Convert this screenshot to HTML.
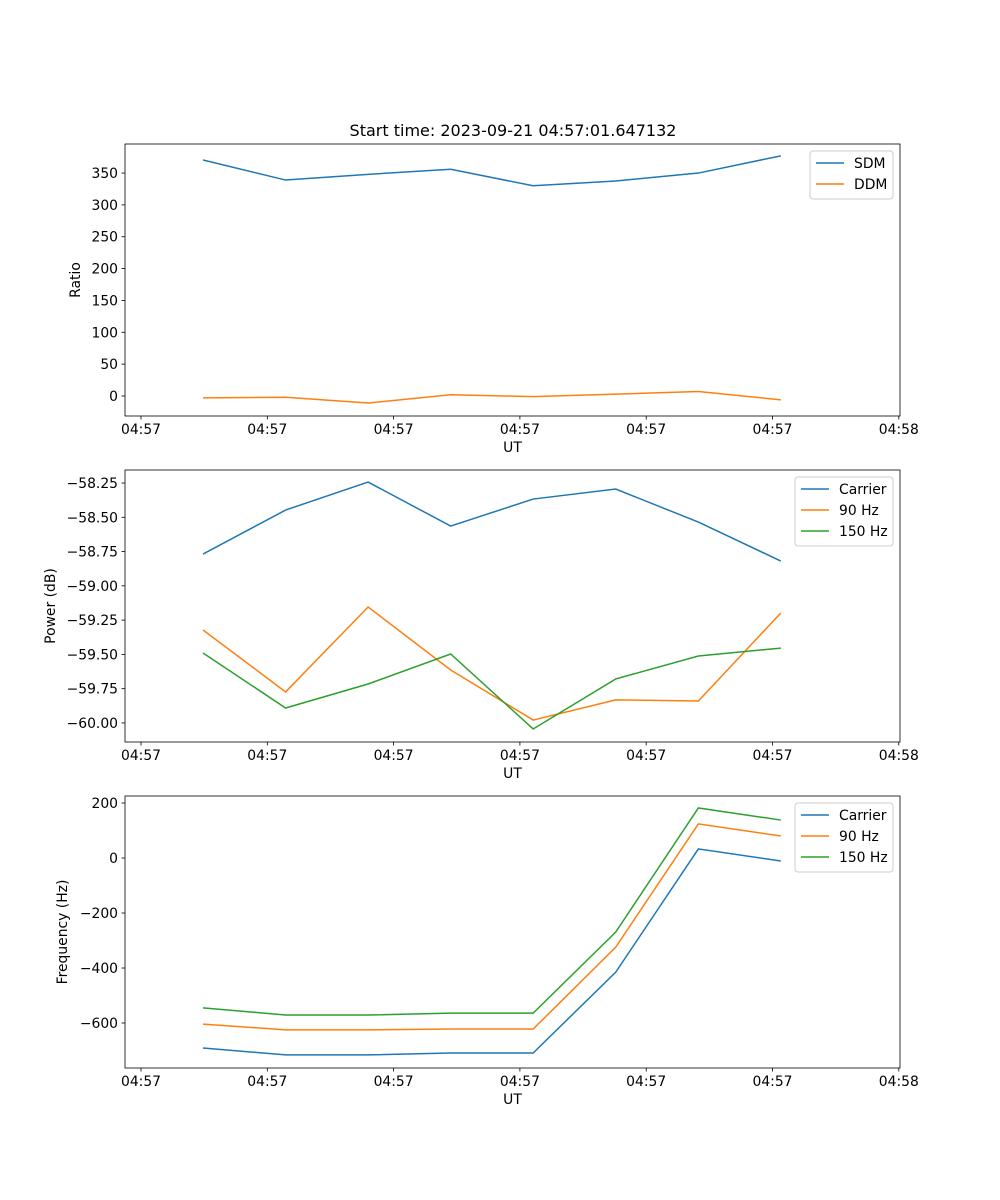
<!DOCTYPE html>
<html><head><meta charset="utf-8"><style>
body{margin:0;background:#fff}
svg{display:block;font-family:"DejaVu Sans","Liberation Sans",sans-serif;font-size:13.9px}
</style></head><body>
<svg id="fig" width="1000" height="1200" xmlns="http://www.w3.org/2000/svg">
<rect width="1000" height="1200" fill="#fff"/>
<text x="513" y="136" text-anchor="middle" font-size="16px">Start time: 2023-09-21 04:57:01.647132</text>
</svg>
<script>
const times=[4.91,11.45,17.98,24.52,31.05,37.59,44.13,50.66];
const xTicks=[0,10,20,30,40,50,60];
const xTickLabels=["04:57","04:57","04:57","04:57","04:57","04:57","04:58"];
const sdm=[370.5,339,348,356,330,337.5,350,377];
const ddm=[-3,-2,-11,2,-1,3,7,-6];
const pCarrier=[-58.768,-58.447,-58.243,-58.564,-58.367,-58.294,-58.535,-58.819];
const p90=[-59.322,-59.774,-59.154,-59.614,-59.979,-59.832,-59.84,-59.198];
const p150=[-59.49,-59.891,-59.716,-59.497,-60.044,-59.679,-59.512,-59.454];
const fCarrier=[-691,-716,-716,-709,-709,-415,33,-11];
const f90=[-604,-625,-625,-622,-622,-324,124,80];
const f150=[-545,-571,-571,-564,-564,-269,182,138];
const ticks1=[0,50,100,150,200,250,300,350];
const ticks2=[-60,-59.75,-59.5,-59.25,-59,-58.75,-58.5,-58.25];
const ticks3=[-600,-400,-200,0,200];
const C=["#1f77b4","#ff7f0e","#2ca02c"];
const svg=document.getElementById('fig');
const NS="http://www.w3.org/2000/svg";
function mk(t,a,p){const e=document.createElementNS(NS,t);for(const k in a)e.setAttribute(k,a[k]);(p||svg).appendChild(e);return e;}
const L=125,R=900;
const xs=t=>141+t*12.63;
function panel(id,top,bot,ymin,ymax,yt,fmt,ylabel,ylx,series,leg){
  const g=mk('g',{});
  
  
  const ys=v=>bot-(v-ymin)/(ymax-ymin)*(bot-top);
  series.forEach((s,i)=>{
    const pl=mk('polyline',{points:s.data.map((v,j)=>xs(times[j])+','+ys(v)).join(' '),fill:'none',stroke:s.c,'stroke-width':1.5},g);
    
    
  });
  mk('rect',{x:L,y:top,width:R-L,height:bot-top,fill:'none',stroke:'#000','stroke-width':0.8},g);
  xTicks.forEach((t,i)=>{
    mk('line',{x1:xs(t),x2:xs(t),y1:bot,y2:bot+3.5,stroke:'#000','stroke-width':0.8},g);
    const tx=mk('text',{x:xs(t),y:bot+18,'text-anchor':'middle'},g);tx.textContent=xTickLabels[i];
    
    
  });
  const xl=mk('text',{x:(L+R)/2,y:bot+36,'text-anchor':'middle'},g);xl.textContent='UT';
  
  
  yt.forEach(v=>{
    mk('line',{x1:L-3.5,x2:L,y1:ys(v),y2:ys(v),stroke:'#000','stroke-width':0.8},g);
    const tx=mk('text',{x:L-7,y:ys(v)+5,'text-anchor':'end'},g);tx.textContent=fmt(v);
    
    
  });
  const my=(top+bot)/2;
  const yl=mk('text',{x:ylx,y:my,'text-anchor':'middle',transform:`rotate(-90 ${ylx} ${my})`},g);yl.textContent=ylabel;
  
  
  const lg=mk('g',{},g);
  
  
  mk('rect',{x:leg.x,y:top+7,width:R-7-leg.x,height:series.length*21+6,rx:3,fill:'#fff',stroke:'#ccc','stroke-width':1},lg);
  series.forEach((s,i)=>{
    const yy=top+19+i*21;
    mk('line',{x1:leg.x+6,x2:leg.x+34,y1:yy,y2:yy,stroke:s.c,'stroke-width':1.5},lg);
    const t=mk('text',{x:leg.x+44,y:yy+5},lg);t.textContent=s.label;
    
    
  });
}
const m=v=>v<0?'\u2212'+Math.abs(v):''+v;
panel('ratio',144,416,-31.4,395.6,ticks1,v=>m(v),'Ratio',80,
 [{data:sdm,c:C[0],label:'SDM',key:'sdm'},{data:ddm,c:C[1],label:'DDM',key:'ddm'}],{x:810});
panel('power',470,742,-60.139,-58.155,ticks2,v=>m(v.toFixed(2)*1).replace(/(\.\d)$/,'$10').replace(/^(\u2212?\d+)$/,'$1.00'),'Power (dB)',55,
 [{data:pCarrier,c:C[0],label:'Carrier',key:'carrier'},{data:p90,c:C[1],label:'90 Hz',key:'90hz'},{data:p150,c:C[2],label:'150 Hz',key:'150hz'}],{x:795});
panel('frequency',796,1068,-763.6,225.5,ticks3,v=>m(v),'Frequency (Hz)',67,
 [{data:fCarrier,c:C[0],label:'Carrier',key:'carrier'},{data:f90,c:C[1],label:'90 Hz',key:'90hz'},{data:f150,c:C[2],label:'150 Hz',key:'150hz'}],{x:795});
</script>
</body></html>
